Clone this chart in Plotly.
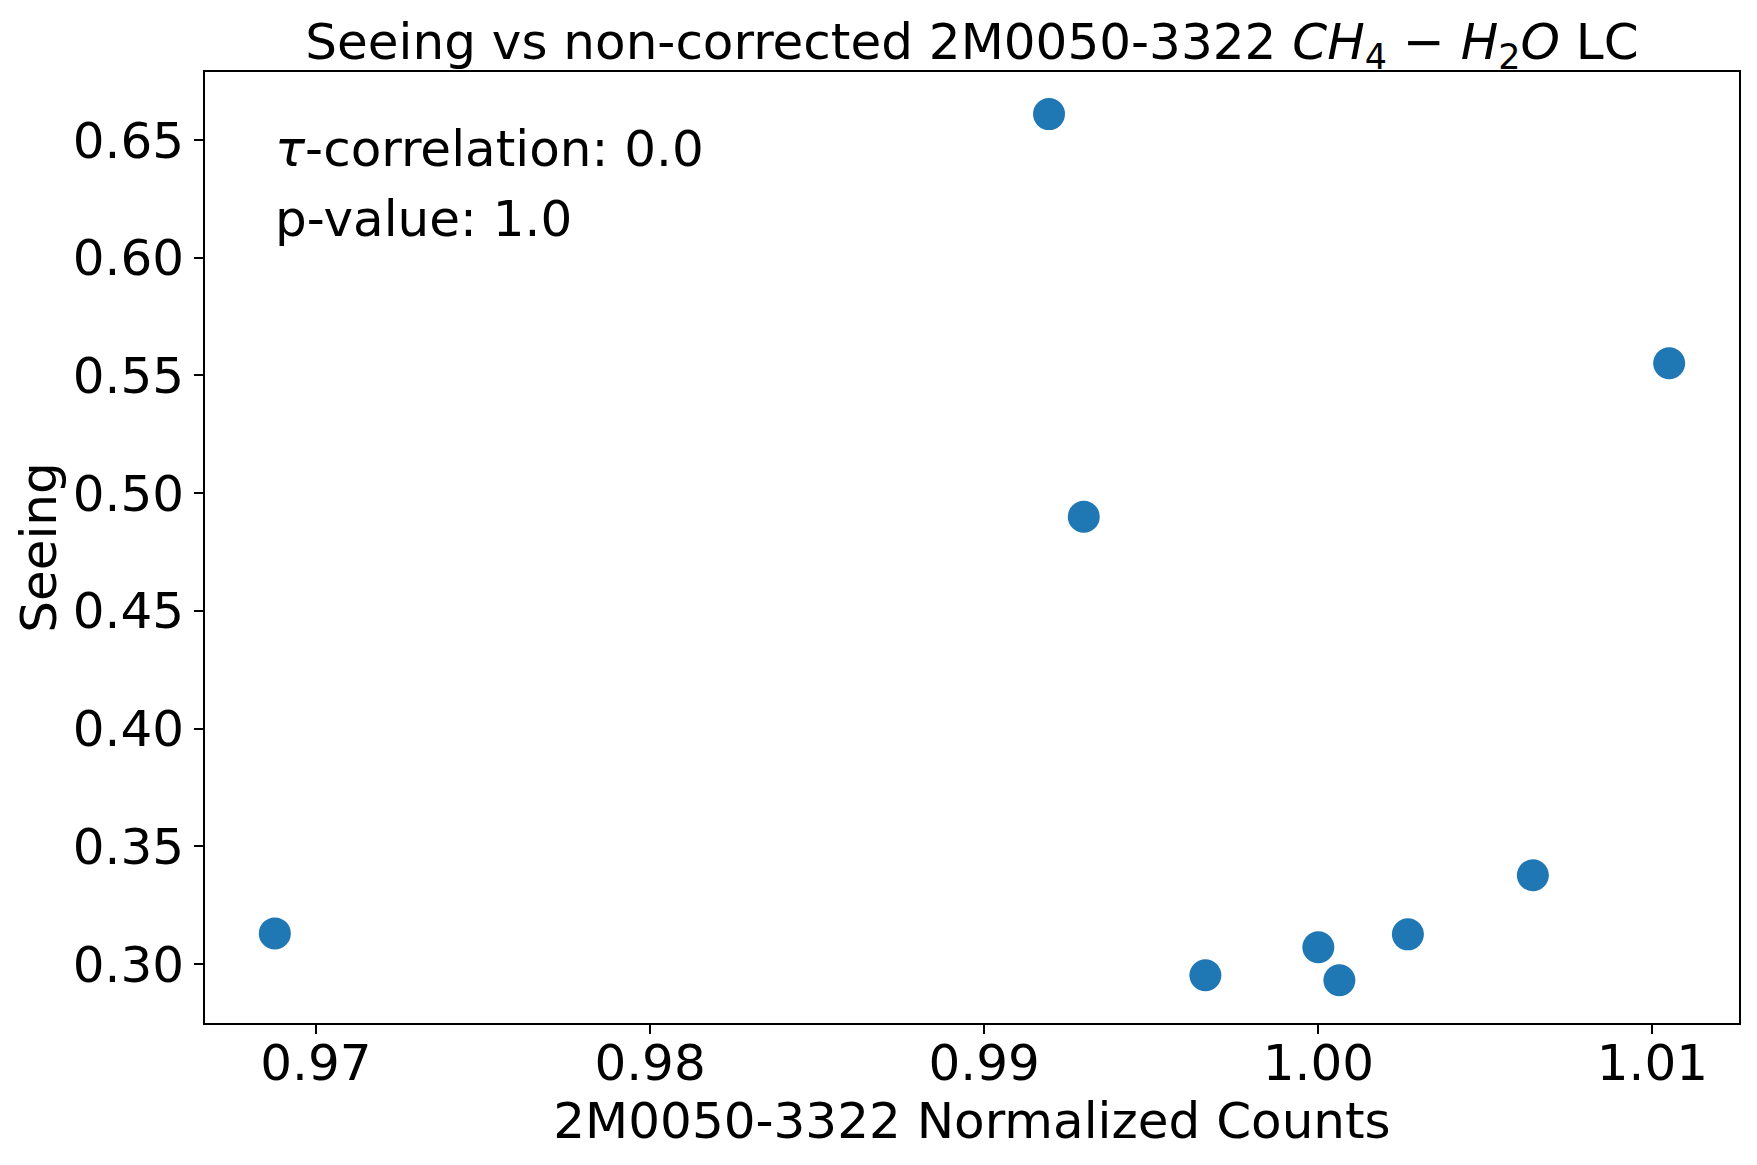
import plotly.graph_objects as go

counts = [0.96877, 0.99194, 0.99298, 0.99662, 1.00000, 1.00063, 1.00268, 1.00642, 1.01050]
seeing = [0.3130, 0.6610, 0.4900, 0.2952, 0.3071, 0.2931, 0.3126, 0.3377, 0.5552]
xticks = [0.97, 0.98, 0.99, 1.00, 1.01]
yticks = [0.30, 0.35, 0.40, 0.45, 0.50, 0.55, 0.60, 0.65]
tau_text = "<i>τ</i>-correlation: 0.0"
p_text = "p-value: 1.0"

FONT = "DejaVu Sans"
FS = 50
W, H = 1757, 1165
L, R, T, B = 205, 18, 72, 142
PW, PH = W - L - R, H - T - B

fig = go.Figure()
fig.add_trace(go.Scatter(
    x=counts, y=seeing, mode="markers",
    marker=dict(size=32, color="#1f77b4", line=dict(width=0)),
    showlegend=False,
))

axis_common = dict(
    showline=True, linecolor="black", linewidth=2, mirror=True,
    ticks="outside", ticklen=9, tickwidth=2, tickcolor="black",
    showgrid=False, zeroline=False,
    tickfont=dict(family=FONT, size=FS, color="black"),
)

fig.update_layout(
    width=W, height=H,
    margin=dict(l=L, r=R, t=T, b=B, autoexpand=False),
    paper_bgcolor="white", plot_bgcolor="white",
    font=dict(family=FONT, size=FS, color="black"),
    title=dict(
        text="Seeing vs non-corrected 2M0050-3322 <i>CH</i><sub>4</sub> − <i>H</i><sub>2</sub><i>O</i> LC",
        x=0.5, xref="paper", xanchor="center",
        y=1 - 41 / H, yanchor="middle",
        font=dict(family=FONT, size=FS, color="black"),
    ),
    xaxis=dict(
        range=[0.96668, 1.01259],
        tickvals=xticks, ticktext=[f"{v:.2f}" for v in xticks],
        ticklabelstandoff=-14,
        title=dict(text="2M0050-3322 Normalized Counts", font=dict(family=FONT, size=FS), standoff=10),
        **axis_common,
    ),
    yaxis=dict(
        range=[0.27494, 0.67889],
        tickvals=yticks, ticktext=[f"{v:.2f}" for v in yticks],
        title=dict(text="Seeing", font=dict(family=FONT, size=FS), standoff=0),
        **axis_common,
    ),
    annotations=[
        dict(text=tau_text, xref="paper", yref="paper", x=(273 - L) / PW, y=1 - (149 - T) / PH,
             xanchor="left", yanchor="middle", showarrow=False, font=dict(family=FONT, size=FS, color="black")),
        dict(text=p_text, xref="paper", yref="paper", x=(273 - L) / PW, y=1 - (219 - T) / PH,
             xanchor="left", yanchor="middle", showarrow=False, font=dict(family=FONT, size=FS, color="black")),
    ],
)

fig.write_html("out.html", config={"displayModeBar": False},
               post_script="document.body.style.margin='0';")
